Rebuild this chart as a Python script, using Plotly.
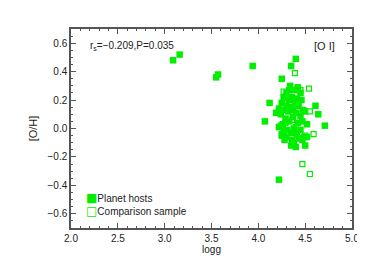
import plotly.graph_objects as go

host_logg = [3.09, 3.16, 3.55, 3.57, 3.94, 4.40, 4.35, 4.25, 4.12, 4.07, 4.22, 4.61, 4.64, 4.71, 4.50, 4.40, 4.35,
             4.34, 4.42, 4.38, 4.30, 4.45, 4.27, 4.36, 4.41, 4.33, 4.46, 4.25, 4.39, 4.30, 4.43, 4.35, 4.22,
             4.27, 4.48, 4.50, 4.32, 4.40, 4.19, 4.24, 4.45, 4.37, 4.29, 4.33, 4.47, 4.42, 4.52, 4.26, 4.22,
             4.38, 4.31, 4.45, 4.27, 4.35, 4.41, 4.25, 4.30, 4.49, 4.52, 4.43, 4.28, 4.36, 4.38, 4.47, 4.33, 4.37]
host_oh = [0.48, 0.52, 0.36, 0.38, 0.44, 0.49, 0.44, 0.35, 0.18, 0.05, -0.36, 0.16, 0.10, 0.02, -0.12, -0.13, -0.12,
           0.30, 0.29, 0.27, 0.25, 0.25, 0.22, 0.22, 0.21, 0.20, 0.20, 0.18, 0.18, 0.16, 0.16, 0.15, 0.14,
           0.13, 0.13, 0.12, 0.12, 0.11, 0.11, 0.10, 0.09, 0.08, 0.07, 0.05, 0.05, 0.04, 0.03, 0.03, 0.01,
           0.00, -0.01, -0.01, -0.02, -0.03, -0.04, -0.05, -0.06, -0.06, -0.06, -0.07, -0.08, -0.08, -0.10, -0.08, 0.27, 0.13]

comp_logg = [4.39, 4.54, 4.47, 4.55, 4.59, 4.27, 4.45, 4.25, 4.55, 4.36, 4.29, 4.33, 4.42, 4.30, 4.50, 4.40, 4.24]
comp_oh = [0.39, 0.28, -0.25, -0.32, -0.04, 0.26, 0.27, -0.04, 0.12, 0.06, 0.04, -0.03, 0.14, 0.21, -0.05, 0.01, 0.02]

x_ticks = [2.0, 2.5, 3.0, 3.5, 4.0, 4.5, 5.0]
y_ticks = [-0.6, -0.4, -0.2, 0.0, 0.2, 0.4, 0.6]

GREEN = "#00ee00"
FONT = "Liberation Sans"
TXT = "#222222"

fig = go.Figure()
fig.add_trace(go.Scatter(x=comp_logg, y=comp_oh, mode="markers", name="Comparison sample",
                         marker=dict(symbol="square-open", size=5, color=GREEN, line=dict(width=1.2, color=GREEN))))
fig.add_trace(go.Scatter(x=host_logg, y=host_oh, mode="markers", name="Planet hosts",
                         marker=dict(symbol="square", size=6.5, color=GREEN, line=dict(width=0))))

axis_common = dict(showline=True, mirror="allticks", linecolor="#555555", linewidth=1.5,
                   ticks="inside", tickcolor="#555555", ticklen=5, tickwidth=1,
                   showgrid=False, zeroline=False,
                   tickfont=dict(family=FONT, size=10, color=TXT))

fig.update_xaxes(range=[2.0, 5.0], tickvals=x_ticks, ticktext=[f"{v:.1f}" for v in x_ticks],
                 minor=dict(ticks="inside", ticklen=2.5, tickcolor="#555555", dtick=0.1, showgrid=False),
                 title=dict(text="logg", font=dict(family=FONT, size=10, color=TXT), standoff=0),
                 **axis_common)
fig.update_yaxes(range=[-0.7, 0.7], tickvals=y_ticks,
                 ticktext=[f"{v:.1f}".replace("-", "\u2212") for v in y_ticks],
                 minor=dict(ticks="inside", ticklen=2.5, tickcolor="#555555", dtick=0.05, showgrid=False),
                 title=dict(text="[O/H]", font=dict(family=FONT, size=11, color=TXT), standoff=8),
                 **axis_common)

fig.add_annotation(xref="paper", yref="paper", x=0.06, y=0.915, xanchor="left", yanchor="middle",
                   text="r<sub>s</sub>=\u22120.209,P=0.035", showarrow=False,
                   font=dict(family=FONT, size=10, color=TXT))
fig.add_annotation(xref="paper", yref="paper", x=0.945, y=0.915, xanchor="right", yanchor="middle",
                   text="[O I]", showarrow=False,
                   font=dict(family=FONT, size=11, color=TXT))

legend_labels = ["Planet hosts", "Comparison sample"]
legend_glyphs = ["\u25A0", "\u25A1"]
legend_y = [0.15, 0.085]
for lab, gl, ly in zip(legend_labels, legend_glyphs, legend_y):
    fig.add_annotation(xref="paper", yref="paper", x=0.045, y=ly, xanchor="left", yanchor="middle",
                       text=f"<span style='color:{GREEN};font-size:12px;font-family:DejaVu Sans'>{gl}</span>{lab}",
                       showarrow=False,
                       font=dict(family=FONT, size=10, color=TXT))

fig.update_layout(width=365, height=261, margin=dict(l=63, r=21, t=21, b=41),
                  paper_bgcolor="white", plot_bgcolor="white", showlegend=False)

fig.write_html("out.html")
